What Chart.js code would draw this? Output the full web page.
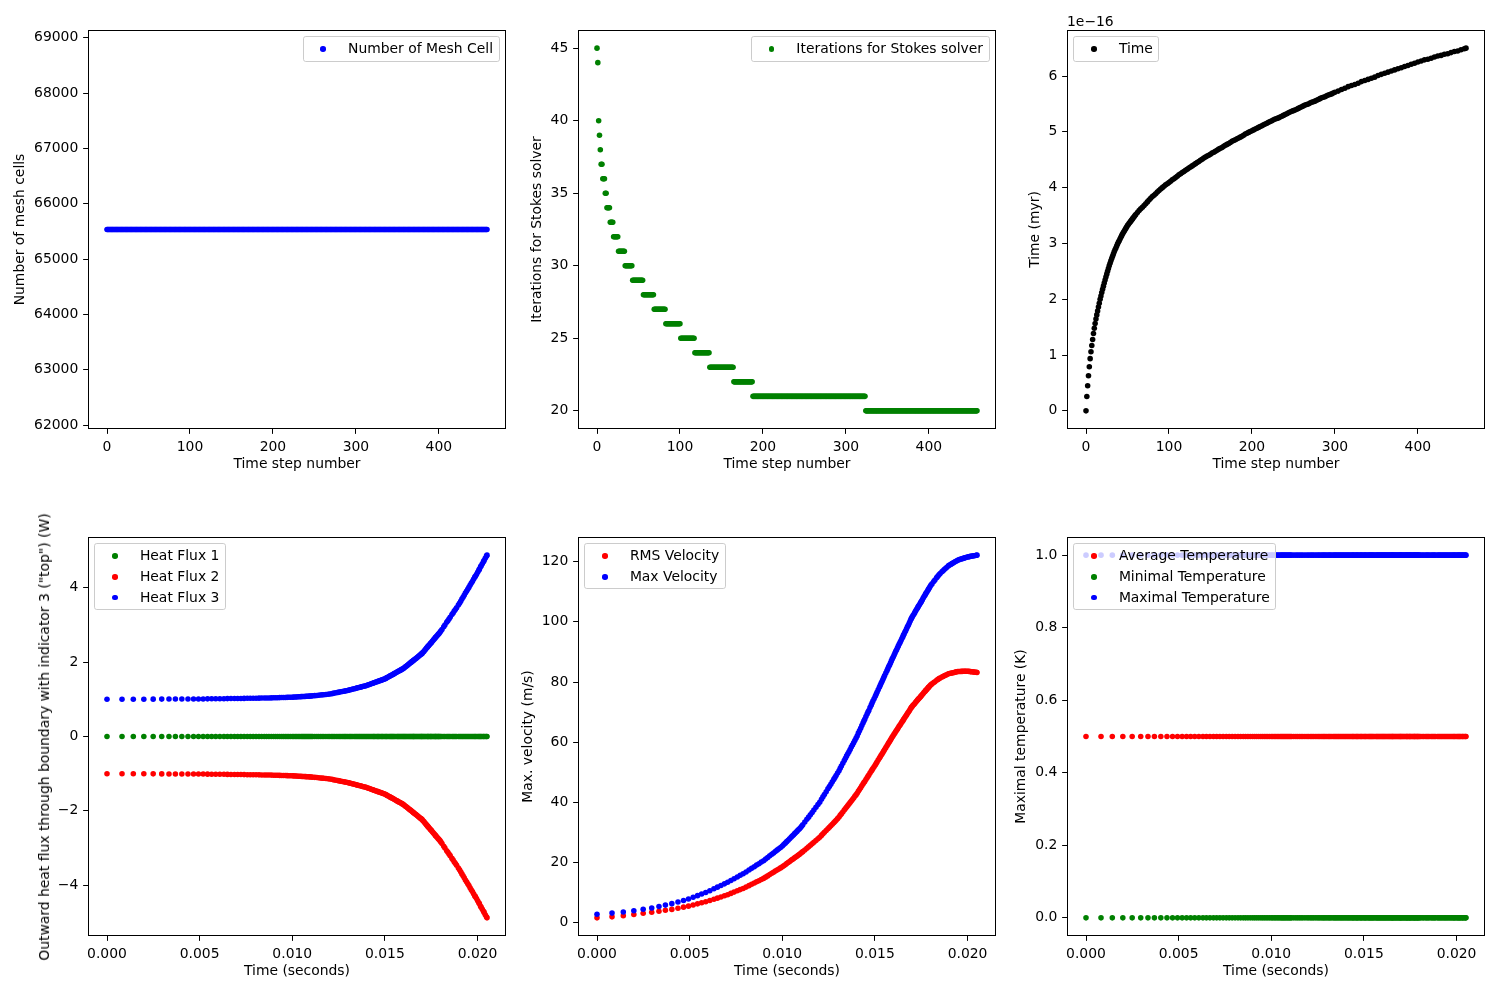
<!DOCTYPE html>
<html><head><meta charset="utf-8">
<script src="https://cdn.jsdelivr.net/npm/chart.js@4.4.1/dist/chart.umd.min.js"></script>
<style>
html,body{margin:0;padding:0;background:#fff;}
#fig{position:relative;width:1500px;height:1000px;overflow:hidden;background:#fff;font-family:"DejaVu Sans",sans-serif;}
#fig canvas{position:absolute;}
.legend{position:absolute;background:rgba(255,255,255,0.8);border:1px solid #cccccc;border-radius:2.8px;padding:4.6px 5.56px 4.6px 5.56px;font-size:13.9px;color:#000;}
.legend .row{display:flex;align-items:center;height:13.9px;line-height:13.9px;white-space:nowrap;}
.legend .row + .row{margin-top:6.95px;}
.legend .hdl{width:27.8px;height:13.9px;position:relative;margin-right:11.1px;flex:none;}
.legend .dot{position:absolute;left:11.12px;top:4.17px;width:5.56px;height:5.56px;border-radius:50%;}
.txt{position:absolute;font-size:13.9px;color:#000;white-space:nowrap;line-height:16px;}
</style></head><body><div id="fig"></div>
<script>
// ---------------- data ----------------
const SEC_PER_MYR = 3.15576e13;

// run-length lists [value, number of consecutive time steps], steps 0..458
const meshCellRuns = [[65536, 459]];
const stokesRuns = [[45,1],[44,1],[40,1],[39,1],[38,1],[37,2],[36,3],[35,2],[34,4],[33,4],[32,6],[31,8],[30,9],[29,13],[28,13],[27,14],[26,18],[25,17],[24,18],[23,29],[22,23],[21,136],[20,135]];

// time steps at which the continuous curves were read
const sampleSteps = [0,1,2,3,4,5,6,7,8,9,10,11,12,13,14,15,16,17,18,19,20,21,22,23,24,25,26,27,28,29,30,
 31,32,33,34,35,36,37,38,39,40,41,42,43,44,45,46,47,48,49,50,51,52,53,54,55,56,57,58,59,60,
 62,64,66,68,70,72,74,76,78,80,82,84,86,88,90,92,94,96,98,100,102,104,106,108,110,112,114,116,118,120,122,
 124,126,128,130,132,134,136,138,140,142,144,146,148,150,152,154,156,158,160,162,
 164,166,168,170,172,174,176,178,180,182,184,186,188,190,192,194,196,198,200,202,
 204,206,208,210,212,214,216,218,220,222,224,226,228,230,232,234,236,238,240,242,
 244,246,248,250,252,254,256,258,260,262,264,266,268,270,272,274,276,278,280,282,
 284,286,288,290,292,294,296,298,
 300,304,308,312,316,320,324,328,332,336,340,344,348,352,356,360,364,368,372,376,380,
 384,388,392,396,400,404,408,412,416,420,424,428,432,436,440,444,448,452,456,458];

// model time in units of 1e-16 myr
const timeMyrE16 = [0,0.257,0.45,0.63,0.79,0.936,1.06,1.17,1.28,1.385,1.48,1.565,1.645,1.72,1.79,1.86,1.93,2.0,2.06,2.12,2.18,
 2.235,2.29,2.345,2.40,2.45,2.50,2.55,2.60,2.645,2.69,2.73,2.77,2.81,2.85,2.885,2.92,2.955,2.99,3.02,3.05,
 3.08,3.11,3.14,3.17,3.195,3.22,3.245,3.27,3.295,3.32,3.34,3.36,3.38,3.40,3.42,3.44,3.46,3.48,3.50,3.52,
 3.555,3.59,3.62,3.65,3.68,3.71,3.745,3.78,3.81,3.84,3.865,3.89,3.92,3.95,3.975,4.00,4.025,4.05,4.07,4.09,
 4.115,4.14,4.16,4.18,4.205,4.23,4.25,4.27,4.29,4.31,4.33,
 4.35,4.37,4.39,4.41,4.43,4.45,4.47,4.49,4.51,4.53,4.55,4.565,4.58,4.60,4.62,4.635,4.65,4.67,4.69,4.705,
 4.72,4.74,4.76,4.775,4.79,4.81,4.83,4.845,4.86,4.875,4.89,4.905,4.92,4.94,4.96,4.975,4.99,5.005,5.02,5.035,
 5.05,5.065,5.08,5.095,5.11,5.125,5.14,5.155,5.17,5.185,5.20,5.215,5.23,5.24,5.25,5.265,5.28,5.295,5.31,5.325,
 5.34,5.355,5.37,5.38,5.39,5.405,5.42,5.435,5.45,5.465,5.48,5.49,5.50,5.515,5.53,5.54,5.55,5.565,5.58,5.595,
 5.61,5.62,5.63,5.645,5.66,5.67,5.68,5.695,
 5.71,5.73,5.76,5.78,5.81,5.83,5.85,5.87,5.90,5.92,5.94,5.96,5.98,6.01,6.03,6.05,6.07,6.09,6.11,6.13,6.15,
 6.17,6.19,6.21,6.23,6.25,6.27,6.29,6.30,6.32,6.34,6.36,6.37,6.39,6.40,6.42,6.44,6.45,6.47,6.49,6.50];

const heatFlux1Runs = [[0, 221]];
const heatFlux2 = [-1.000,-1.002,-1.003,-1.004,-1.005,-1.006,-1.007,-1.007,-1.008,-1.009,
 -1.009,-1.010,-1.011,-1.013,-1.014,-1.015,-1.017,-1.018,-1.019,-1.020,
 -1.021,-1.022,-1.024,-1.025,-1.027,-1.028,-1.029,-1.031,-1.032,-1.034,
 -1.035,-1.036,-1.037,-1.039,-1.040,-1.042,-1.044,-1.046,-1.048,-1.050,
 -1.051,-1.053,-1.055,-1.056,-1.058,-1.060,-1.063,-1.065,-1.068,-1.070,
 -1.072,-1.074,-1.076,-1.078,-1.080,-1.082,-1.084,-1.086,-1.087,-1.091,-1.094,
 -1.099,-1.105,-1.110,-1.115,-1.120,-1.125,-1.131,-1.136,-1.142,-1.152,-1.160,-1.168,-1.177,-1.187,-1.194,
 -1.202,-1.210,-1.218,-1.224,-1.231,-1.239,-1.248,-1.257,-1.265,-1.275,-1.286,-1.293,-1.302,-1.310,-1.318,-1.326,
 -1.335,-1.343,-1.351,-1.360,-1.367,-1.377,-1.390,-1.401,-1.411,-1.424,-1.435,-1.444,-1.451,-1.464,-1.474,-1.483,-1.491,-1.503,-1.514,-1.523,
 -1.532,-1.543,-1.556,-1.570,-1.584,-1.600,-1.617,-1.631,-1.645,-1.656,-1.670,-1.684,-1.698,-1.715,-1.732,-1.746,-1.760,-1.771,-1.785,-1.799,
 -1.813,-1.824,-1.842,-1.862,-1.882,-1.898,-1.918,-1.938,-1.958,-1.974,-1.994,-2.014,-2.030,-2.046,-2.058,-2.078,-2.094,-2.114,-2.134,-2.150,
 -2.170,-2.190,-2.210,-2.222,-2.236,-2.265,-2.289,-2.319,-2.348,-2.378,-2.401,-2.425,-2.442,-2.466,-2.496,-2.513,-2.531,-2.560,-2.590,-2.619,
 -2.643,-2.667,-2.684,-2.708,-2.737,-2.755,-2.773,-2.802,
 -2.835,-2.879,-2.953,-2.998,-3.072,-3.116,-3.160,-3.205,-3.279,-3.323,-3.375,
 -3.419,-3.464,-3.538,-3.586,-3.637,-3.696,-3.747,-3.798,-3.858,-3.909,
 -3.960,-4.011,-4.070,-4.121,-4.172,-4.232,-4.283,-4.308,-4.359,-4.419,
 -4.474,-4.502,-4.566,-4.594,-4.649,-4.704,-4.732,-4.796,-4.852,-4.879];
const heatFlux3 = [1.000,1.002,1.003,1.004,1.005,1.006,1.007,1.007,1.008,1.009,
 1.009,1.010,1.011,1.013,1.014,1.015,1.017,1.018,1.019,1.020,
 1.021,1.022,1.024,1.025,1.027,1.028,1.029,1.031,1.032,1.034,
 1.035,1.036,1.037,1.039,1.040,1.042,1.044,1.046,1.048,1.050,
 1.051,1.053,1.055,1.056,1.058,1.060,1.063,1.065,1.068,1.070,
 1.072,1.074,1.076,1.078,1.080,1.082,1.084,1.086,1.087,1.091,1.094,
 1.099,1.105,1.110,1.115,1.120,1.125,1.131,1.136,1.142,1.152,1.160,1.168,1.177,1.187,1.194,
 1.202,1.210,1.218,1.224,1.231,1.239,1.248,1.257,1.265,1.275,1.286,1.293,1.302,1.310,1.318,1.326,
 1.335,1.343,1.351,1.360,1.367,1.377,1.390,1.401,1.411,1.424,1.435,1.444,1.451,1.464,1.474,1.483,1.491,1.503,1.514,1.523,
 1.532,1.543,1.556,1.570,1.584,1.600,1.617,1.631,1.645,1.656,1.670,1.684,1.698,1.715,1.732,1.746,1.760,1.771,1.785,1.799,
 1.813,1.824,1.842,1.862,1.882,1.898,1.918,1.938,1.958,1.974,1.994,2.014,2.030,2.046,2.058,2.078,2.094,2.114,2.134,2.150,
 2.170,2.190,2.210,2.222,2.236,2.265,2.289,2.319,2.348,2.378,2.401,2.425,2.442,2.466,2.496,2.513,2.531,2.560,2.590,2.619,
 2.643,2.667,2.684,2.708,2.737,2.755,2.773,2.802,
 2.835,2.879,2.953,2.998,3.072,3.116,3.160,3.205,3.279,3.323,3.375,
 3.419,3.464,3.538,3.586,3.637,3.696,3.747,3.798,3.858,3.909,
 3.960,4.011,4.070,4.121,4.172,4.232,4.283,4.308,4.359,4.419,
 4.474,4.502,4.566,4.594,4.649,4.704,4.732,4.796,4.852,4.879];

const rmsVelocity = [1.53,1.87,2.24,2.64,3.04,3.41,3.75,4.04,4.35,4.74,
 5.10,5.43,5.80,6.19,6.54,6.89,7.28,7.72,8.10,8.48,
 8.86,9.23,9.68,10.10,10.53,10.93,11.33,11.76,12.25,12.69,
 13.12,13.52,13.89,14.30,14.67,15.08,15.50,15.95,16.37,16.71,
 17.09,17.44,17.78,18.16,18.50,18.86,19.22,19.58,19.94,20.30,
 20.66,20.93,21.20,21.52,21.79,22.06,22.37,22.64,22.91,23.26,23.57,
 24.14,24.72,25.18,25.70,26.17,26.69,27.26,27.84,28.33,28.97,29.48,29.99,30.57,31.21,31.66,
 32.17,32.68,33.19,33.58,34.02,34.54,35.08,35.64,36.12,36.76,37.40,37.88,38.44,38.92,39.40,39.88,
 40.44,40.92,41.40,41.96,42.44,42.98,43.66,44.23,44.81,45.48,46.06,46.54,46.92,47.59,48.17,48.65,49.03,49.70,50.28,50.76,
 51.24,51.82,52.40,52.91,53.41,54.02,54.62,55.13,55.63,56.04,56.54,57.05,57.55,58.16,58.77,59.27,59.78,60.18,60.68,61.19,
 61.69,62.10,62.59,63.06,63.54,63.92,64.39,64.87,65.34,65.72,66.20,66.67,67.05,67.43,67.72,68.19,68.57,69.05,69.52,69.90,
 70.38,70.85,71.33,71.61,71.87,72.23,72.52,72.88,73.24,73.60,73.89,74.18,74.39,74.68,75.04,75.26,75.47,75.83,76.19,76.55,
 76.84,77.13,77.34,77.63,77.99,78.21,78.42,78.78,
 79.09,79.37,79.83,80.10,80.56,80.84,81.12,81.36,81.66,81.84,82.05,
 82.23,82.41,82.71,82.84,82.93,83.02,83.11,83.19,83.29,83.37,
 83.46,83.51,83.52,83.53,83.54,83.56,83.57,83.58,83.59,83.59,
 83.54,83.52,83.46,83.44,83.39,83.34,83.32,83.26,83.22,83.19];
const maxVelocity = [2.75,3.12,3.49,3.89,4.37,4.80,5.32,5.78,6.27,6.83,
 7.34,7.80,8.36,8.93,9.46,9.99,10.56,11.20,11.75,12.30,
 12.85,13.37,13.98,14.56,15.14,15.68,16.23,16.80,17.44,18.00,
 18.56,19.08,19.56,20.08,20.56,21.08,21.61,22.18,22.71,23.14,
 23.62,24.06,24.49,24.97,25.40,25.90,26.39,26.89,27.38,27.88,
 28.38,28.75,29.12,29.55,29.93,30.30,30.73,31.10,31.48,32.01,32.50,
 33.40,34.31,35.04,35.86,36.60,37.42,38.32,39.23,40.0,41.0,41.8,42.6,43.5,44.5,45.2,
 46.0,46.8,47.6,48.2,48.9,49.7,50.50,51.32,52.02,52.96,53.90,54.60,55.42,56.12,56.82,57.52,
 58.34,59.04,59.75,60.56,61.27,62.04,62.99,63.80,64.61,65.55,66.36,67.04,67.58,68.52,69.33,70.01,70.55,71.49,72.30,72.98,
 73.65,74.46,75.27,75.95,76.62,77.43,78.24,78.92,79.59,80.13,80.81,81.48,82.16,82.97,83.78,84.45,85.13,85.67,86.34,87.02,
 87.69,88.23,88.89,89.54,90.19,90.71,91.36,92.01,92.66,93.18,93.83,94.48,95.0,95.52,95.91,96.56,97.08,97.73,98.38,98.90,
 99.55,100.20,100.85,101.24,101.61,102.13,102.55,103.08,103.60,104.13,104.55,104.97,105.28,105.70,106.23,106.54,106.86,107.38,107.91,108.43,
 108.85,109.27,109.59,110.01,110.53,110.85,111.16,111.69,
 112.16,112.64,113.44,113.92,114.72,115.2,115.68,116.11,116.67,117.01,117.40,
 117.74,118.07,118.63,118.91,119.12,119.38,119.59,119.81,120.06,120.28,
 120.49,120.66,120.80,120.92,121.04,121.18,121.30,121.36,121.48,121.61,
 121.68,121.72,121.80,121.84,121.91,121.98,122.02,122.10,122.18,122.21];

const avgTempRuns = [[0.5, 221]];
const minTempRuns = [[0, 221]];
const maxTempRuns = [[1, 221]];

// tick values
const stepTicks = [0,100,200,300,400];
const secondTicks = [0,0.005,0.010,0.015,0.020];
const meshTicks = [62000,63000,64000,65000,66000,67000,68000,69000];
const stokesTicks = [20,25,30,35,40,45];
const timeTicks = [0,1,2,3,4,5,6];
const heatTicks = [-4,-2,0,2,4];
const velTicks = [0,20,40,60,80,100,120];
const tempTicks = [0,0.2,0.4,0.6,0.8,1.0];

// ---------------- helpers ----------------
function expandRuns(runs){const out=[];for(const [v,n] of runs){for(let k=0;k<n;k++)out.push(v);}return out;}
const timeSeconds = timeMyrE16.map(v => v * 1e-16 * SEC_PER_MYR);
const byStep = vals => vals.map((v,i)=>({x:i,y:v}));
const bySample = vals => vals.map((v,i)=>({x:sampleSteps[i],y:v}));
const byTime = vals => vals.map((v,i)=>({x:timeSeconds[i],y:v}));

const BLUE='#0000ff', GREEN='#008000', RED='#ff0000', BLACK='#000000';
const FONT={family:'DejaVu Sans',size:13.9,lineHeight:1.2};
Chart.defaults.color='#000';
Chart.defaults.font.family='DejaVu Sans';
Chart.defaults.font.size=13.9;

const fig=document.getElementById('fig');
const framePlugin={id:'frame',afterDraw(chart){const a=chart.chartArea,c=chart.ctx;c.save();c.strokeStyle='#000';c.lineWidth=1;c.strokeRect(a.left+0.5,a.top+0.5,a.right-a.left-1,a.bottom-a.top-1);c.restore();}};
const minus = v => (v<0?'\u2212'+String(Math.abs(v)):String(v));

function makeAxis(o, tickVals, fmt, isX, fixed, titleText, titlePad){
  return {
    type:'linear', position:isX?'bottom':'left', min:o[0], max:o[1],
    afterBuildTicks:s=>{s.ticks=tickVals.map(v=>({value:v}));},
    afterFit:s=>{ if(isX) s.height=fixed; else s.width=fixed; },
    ticks:{color:'#000',font:FONT,padding:4.86,autoSkip:false,maxRotation:0,minRotation:0,callback:v=>fmt(v)},
    grid:{drawOnChartArea:false,drawTicks:true,tickLength:4.86,color:'#000',lineWidth:1},
    border:{display:false},
    title:{display:!!titleText,text:titleText||'',color:'#000',font:FONT,padding:isX?{top:0,bottom:titlePad}:{top:titlePad,bottom:0}}
  };
}

function panel(p){
  const c=document.createElement('canvas');
  c.width=p.cw;c.height=p.ch;
  c.style.left=p.cl+'px';c.style.top=p.ct+'px';c.style.width=p.cw+'px';c.style.height=p.ch+'px';
  fig.appendChild(c);
  const n=p.series.length;
  new Chart(c,{
    type:'scatter',
    data:{datasets:p.series.map((s,i)=>({label:s.label,data:s.data,backgroundColor:s.color,borderColor:s.color,
      pointRadius:2.78,pointHoverRadius:2.78,pointBorderWidth:0,borderWidth:0,showLine:false,order:n-i}))},
    options:{
      responsive:false,animation:false,devicePixelRatio:1,events:[],
      layout:{autoPadding:false,padding:{left:0,top:p.pt-p.ct,right:p.cl+p.cw-p.pr,bottom:0}},
      plugins:{legend:{display:false},tooltip:{enabled:false},title:{display:false}},
      scales:{
        x:makeAxis(p.xr,p.xt,p.xf,true,p.ct+p.ch-p.pb,p.xtitle,p.xpad),
        y:makeAxis(p.yr,p.yt,p.yf,false,p.pl-p.cl,p.ytitle,p.ypad)
      }
    },
    plugins:[framePlugin]
  });
  // legend (matplotlib style, inside axes)
  const lg=document.createElement('div');lg.className='legend';
  p.series.forEach(s=>{const r=document.createElement('div');r.className='row';
    const h=document.createElement('div');h.className='hdl';const d=document.createElement('div');d.className='dot';d.style.background=s.color;h.appendChild(d);
    const t=document.createElement('span');t.textContent=s.label;r.appendChild(h);r.appendChild(t);lg.appendChild(r);});
  lg.style.top=(p.pt+6.45)+'px';
  if(p.legend==='right'){lg.style.right=(1500-(p.pr-6.45))+'px';}else{lg.style.left=(p.pl+6.45)+'px';}
  fig.appendChild(lg);
}

const fmtInt=v=>String(Math.round(v));
const stepRange=[-22.9,480.9];
const secRange=[-0.0010256,0.0215376];

const meshCells=expandRuns(meshCellRuns);
const stokesIters=expandRuns(stokesRuns);

panel({cl:0,ct:0,cw:520,ch:490,pl:88,pt:30,pr:506,pb:429,
  xr:stepRange,xt:stepTicks,xf:fmtInt,xtitle:'Time step number',xpad:17.66,
  yr:[61931.2,69140.8],yt:meshTicks,yf:fmtInt,ytitle:'Number of mesh cells',ypad:11.66,legend:'right',
  series:[{label:'Number of Mesh Cell',color:BLUE,data:byStep(meshCells)}]});

panel({cl:515,ct:0,cw:495,ch:490,pl:578,pt:30,pr:996,pb:429,
  xr:stepRange,xt:stepTicks,xf:fmtInt,xtitle:'Time step number',xpad:17.66,
  yr:[18.75,46.25],yt:stokesTicks,yf:fmtInt,ytitle:'Iterations for Stokes solver',ypad:13.66,legend:'right',
  series:[{label:'Iterations for Stokes solver',color:GREEN,data:byStep(stokesIters)}]});

panel({cl:1005,ct:0,cw:495,ch:490,pl:1067,pt:30,pr:1485,pb:429,
  xr:stepRange,xt:stepTicks,xf:fmtInt,xtitle:'Time step number',xpad:17.66,
  yr:[-0.325,6.825],yt:timeTicks,yf:fmtInt,ytitle:'Time (myr)',ypad:21.66,legend:'left',
  series:[{label:'Time',color:BLACK,data:bySample(timeMyrE16)}]});

panel({cl:0,ct:500,cw:520,ch:500,pl:88,pt:537,pr:506,pb:936,
  xr:secRange,xt:secondTicks,xf:v=>v.toFixed(3),xtitle:'Time (seconds)',xpad:20.66,
  yr:[-5.367,5.367],yt:heatTicks,yf:minus,ytitle:'',ypad:0,legend:'left',
  series:[{label:'Heat Flux 1',color:GREEN,data:byTime(expandRuns(heatFlux1Runs))},
          {label:'Heat Flux 2',color:RED,data:byTime(heatFlux2)},
          {label:'Heat Flux 3',color:BLUE,data:byTime(heatFlux3)}]});

panel({cl:515,ct:500,cw:495,ch:500,pl:578,pt:537,pr:996,pb:936,
  xr:secRange,xt:secondTicks,xf:v=>v.toFixed(3),xtitle:'Time (seconds)',xpad:20.66,
  yr:[-4.5,128.24],yt:velTicks,yf:fmtInt,ytitle:'Max. velocity (m/s)',ypad:4.86,legend:'left',
  series:[{label:'RMS Velocity',color:RED,data:byTime(rmsVelocity)},
          {label:'Max Velocity',color:BLUE,data:byTime(maxVelocity)}]});

panel({cl:1005,ct:500,cw:495,ch:500,pl:1067,pt:537,pr:1485,pb:936,
  xr:secRange,xt:secondTicks,xf:v=>v.toFixed(3),xtitle:'Time (seconds)',xpad:20.66,
  yr:[-0.05,1.05],yt:tempTicks,yf:v=>v.toFixed(1),ytitle:'Maximal temperature (K)',ypad:8.26,legend:'left',
  series:[{label:'Average Temperature',color:RED,data:byTime(expandRuns(avgTempRuns))},
          {label:'Minimal Temperature',color:GREEN,data:byTime(expandRuns(minTempRuns))},
          {label:'Maximal Temperature',color:BLUE,data:byTime(expandRuns(maxTempRuns))}]});

// offset text of the time axis and the long y label of the heat flux panel
const off=document.createElement('div');off.className='txt';off.style.left='1067px';off.style.top='13px';off.textContent='1e\u221216';fig.appendChild(off);
const yl=document.createElement('div');yl.className='txt';yl.style.left='44.2px';yl.style.top='736.5px';
yl.style.transform='translate(-50%,-50%) rotate(-90deg)';yl.textContent='Outward heat flux through boundary with indicator 3 ("top") (W)';fig.appendChild(yl);
</script></body></html>
